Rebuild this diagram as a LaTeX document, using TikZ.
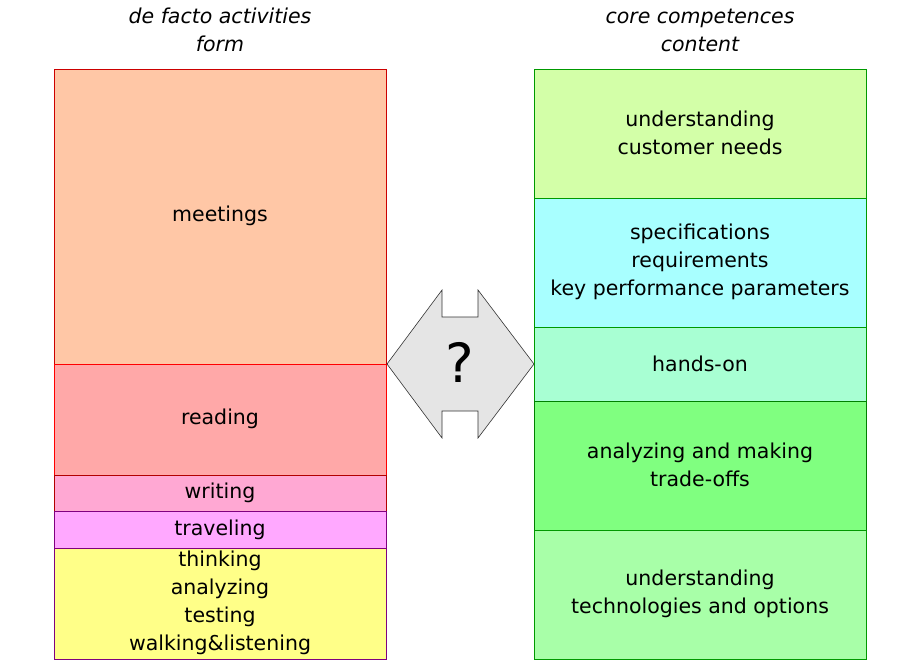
\documentclass[tikz,border=0pt]{standalone}
\usepackage{fontspec}
\setmainfont{DejaVu Sans}
\begin{document}
\begin{tikzpicture}[x=1pt,y=-1pt,
  lbl/.style={align=center,font=\fontsize{20.5}{28}\selectfont,inner sep=0pt},
  ttl/.style={align=center,font=\fontsize{20.5}{28}\selectfont\itshape,inner sep=0pt}]
\useasboundingbox (0,0) rectangle (920,660);
\definecolor{cMeet}{HTML}{FFC7A6}
\definecolor{cRead}{HTML}{FFA8A8}
\definecolor{cWrite}{HTML}{FFA8D3}
\definecolor{cTrav}{HTML}{FFA8FF}
\definecolor{cThink}{HTML}{FFFF88}
\definecolor{cCust}{HTML}{D3FFA8}
\definecolor{cSpec}{HTML}{A8FFFF}
\definecolor{cHand}{HTML}{A8FFD3}
\definecolor{cTrade}{HTML}{80FF80}
\definecolor{cTech}{HTML}{A8FFA8}
\node[ttl] (t1) at (220,30) {de facto activities\\form};
\node[ttl] (t2) at (700,30) {core competences\\content};
\path[fill=cMeet,draw=red!80!black] (54,69) rectangle (386,364);
\path[fill=cRead,draw=red] (54,364) rectangle (386,475);
\path[fill=cWrite,draw=red!70!black] (54,475) rectangle (386,511);
\path[fill=cTrav,draw=violet] (54,511) rectangle (386,548);
\path[fill=cThink,draw=violet] (54,548) rectangle (386,659);
\node[lbl] (m) at (220,216) {meetings};
\node[lbl] (r) at (220,419) {reading};
\node[lbl] (w) at (220,493) {writing};
\node[lbl] (tr) at (220,530) {traveling};
\node[lbl] (th) at (220,603) {thinking\\analyzing\\testing\\walking\&listening};
\path[fill=cCust,draw=green!60!black] (534,69) rectangle (866,198);
\path[fill=cSpec,draw=green!60!black] (534,198) rectangle (866,327);
\path[fill=cHand,draw=green!60!black] (534,327) rectangle (866,401);
\path[fill=cTrade,draw=green!50!black] (534,401) rectangle (866,530);
\path[fill=cTech,draw=green!60!black] (534,530) rectangle (866,659);
\node[lbl] (c1) at (700,133) {understanding\\customer needs};
\node[lbl] (c2) at (700,262) {specifications\\requirements\\key performance parameters};
\node[lbl] (c3) at (700,364) {hands-on};
\node[lbl] (c4) at (700,465) {analyzing and making\\trade-offs};
\node[lbl] (c5) at (700,594) {understanding\\technologies and options};
\draw[fill=black!10,draw=black!80,line width=0.6pt] (387,364) -- (442,290) -- (442,317) -- (478,317) -- (478,290) -- (534,364) -- (478,438) -- (478,411) -- (442,411) -- (442,438) -- cycle;
\node[inner sep=0pt,font=\fontsize{54}{58}\selectfont] (q) at (460,362) {?};
\end{tikzpicture}
\end{document}
